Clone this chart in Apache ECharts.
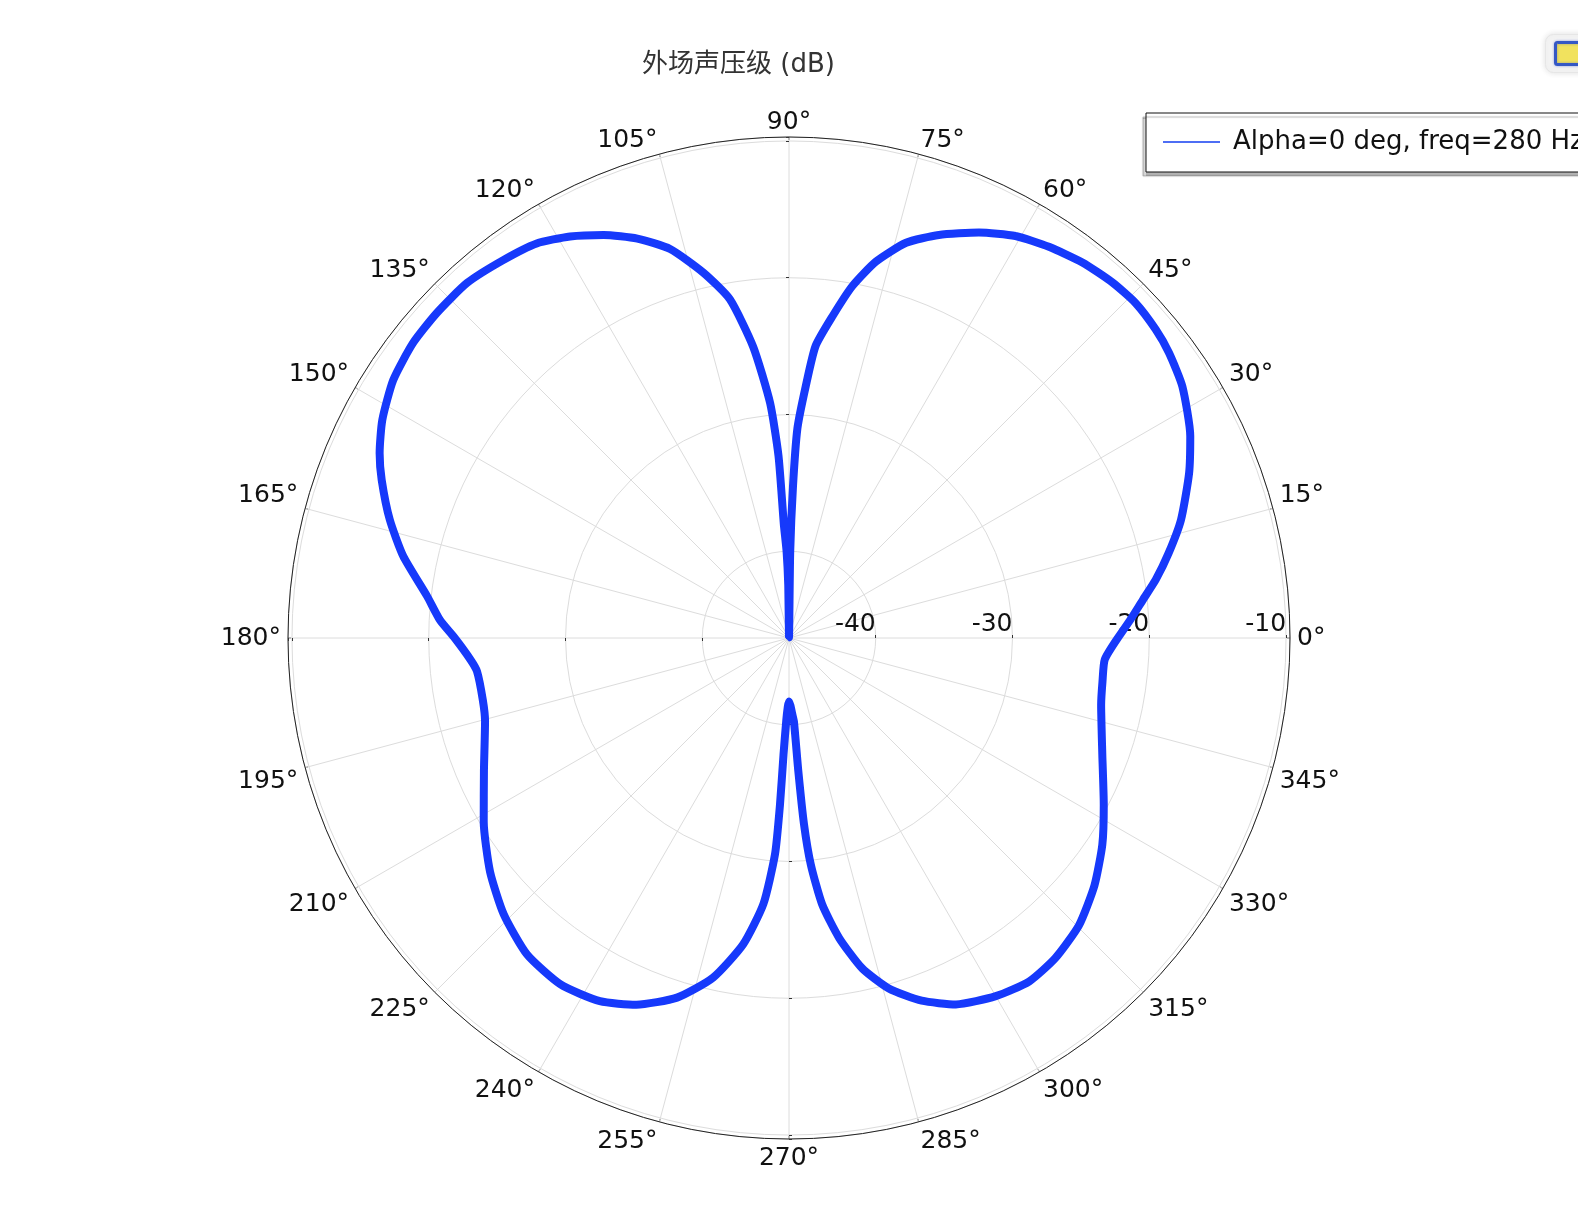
<!DOCTYPE html>
<html>
<head>
<meta charset="utf-8">
<script src="https://cdn.jsdelivr.net/npm/echarts@6/dist/echarts.min.js"></script>
<style>
  html, body { margin: 0; padding: 0; background: #fff; }
  #chart { width: 1578px; height: 1209px; }
</style>
</head>
<body>
<div id="chart"></div>
<script>
// Far-field sound pressure level around the body, in dB, against direction in degrees
const seriesName = 'Alpha=0 deg, freq=280 Hz';
const titleText = '外场声压级 (dB)';

const angleDeg = [
  0, 3.2, 6.2, 9.0, 12.6, 16.8, 22.4, 26.7, 32.6, 36.9, 40.1, 44.0, 47.7, 52.0, 56.4,
  60.6, 64.9, 69.6, 73.5, 77.0, 79.8, 82.3, 84.8, 86.2, 87.7, 88.5, 89.2, 90,
  90.8, 91.6, 92.6, 93.3, 94.6, 97.0, 99.9, 103.2, 107.0, 110.8, 114.7, 118.6, 122.6,
  127.1, 132.2, 137.3, 141.9, 146.9, 151.8, 155.7, 158.8, 163.5, 168.0, 173.4, 177.1, 180,
  183.9, 186.1, 191.4, 195.3, 203.6, 211.0, 218.0, 224.1, 230.4, 236.6, 242.5, 247.4,
  252.7, 257.4, 261.5, 264.5, 266.3, 266.9, 267.3, 268.1, 269.0, 270,
  271.2, 272.4, 273.4, 274.0, 274.6, 275.5, 277.1, 279.5, 282.5, 285.9, 290.1, 294.5,
  300.0, 305.0, 309.8, 315.3, 321.0, 326.6, 332.1, 339.6, 347.9, 352.1, 356.1, 360
];

const levelDb = [
  -22.3, -21.3, -20.3, -19.2, -17.9, -16.4, -14.7, -13.5, -12.2, -11.6, -11.3, -11.1, -11.2, -11.5, -12.0,
  -12.6, -13.6, -14.9, -16.2, -18.1, -20.2, -22.6, -24.9, -27.9, -31.0, -35.3, -40.0, -46.3,
  -42.5, -40.0, -38.0, -33.0, -29.1, -24.9, -21.2, -18.9, -16.6, -15.1, -13.9, -12.9, -12.1,
  -11.7, -11.3, -11.3, -11.4, -11.8, -12.6, -13.5, -14.4, -15.9, -17.5, -19.7, -20.8, -21.9,
  -23.0, -23.4, -23.5, -23.3, -22.0, -20.3, -18.6, -17.3, -16.3, -16.0, -16.4, -17.3,
  -18.8, -20.9, -23.7, -26.8, -30.5, -34.1, -37.8, -40.3, -41.3, -41.7,
  -41.4, -40.8, -40.2, -36.6, -32.7, -29.7, -26.7, -24.1, -21.6, -19.7, -18.1, -16.9,
  -16.1, -15.7, -15.9, -16.5, -17.6, -18.9, -20.3, -21.9, -23.0, -23.2, -23.2, -22.3
];

// angular tick labels (deg) around the rim
const angleTicks = [0, 15, 30, 45, 60, 75, 90, 105, 120, 135, 150, 165,
                    180, 195, 210, 225, 240, 255, 270, 285, 300, 315, 330, 345];

// radial range of the plot (dB) and the angular grid step (deg)
const radialMin = -46.34;
const radialMax = -9.71;
const angleStep = 15;

const fontFamily = '"DejaVu Sans", "Noto Sans CJK SC", sans-serif';
const center = [789, 638];
const radius = 501;

const curve = angleDeg.map((a, i) => [levelDb[i], a]);
const rimLabels = angleTicks.map(a => [radialMax, a]);

// extra polar frames only carry the radial tick marks on the 90/180/270 degree axes
const tickFrames = [90, 180, 270];

const polar = [{ center: center, radius: radius }]
  .concat(tickFrames.map(() => ({ center: center, radius: radius })));

const angleAxis = [{
  polarIndex: 0,
  type: 'value',
  min: 0,
  max: 360,
  interval: angleStep,
  startAngle: 0,
  clockwise: false,
  axisLine: { show: true, lineStyle: { color: '#222', width: 1 } },
  axisTick: { show: true, inside: true, length: 3, lineStyle: { color: '#333' } },
  axisLabel: { show: false },
  splitLine: { show: true, lineStyle: { color: '#dcdcdc', width: 1 } }
}].concat(tickFrames.map((s, k) => ({
  polarIndex: k + 1,
  type: 'value',
  min: 0,
  max: 360,
  startAngle: s,
  clockwise: false,
  show: false
})));

const radiusAxis = [{
  polarIndex: 0,
  type: 'value',
  min: radialMin,
  max: radialMax,
  axisLine: { show: false },
  axisTick: { show: true, length: 3, lineStyle: { color: '#333' } },
  axisLabel: {
    show: true,
    showMinLabel: false,
    showMaxLabel: false,
    color: '#111',
    fontSize: 25,
    fontFamily: fontFamily,
    align: 'right',
    verticalAlign: 'bottom',
    margin: 1
  },
  splitLine: { show: true, lineStyle: { color: '#dcdcdc', width: 1 } }
}].concat(tickFrames.map((s, k) => ({
  polarIndex: k + 1,
  type: 'value',
  min: radialMin,
  max: radialMax,
  axisLine: { show: false },
  axisTick: { show: true, length: 3, lineStyle: { color: '#333' } },
  axisLabel: { show: false },
  splitLine: { show: false }
})));

// rim labels: anchored just outside the rim, aligned away from the centre
function renderRimLabel(params, api) {
  const a = api.value(1);
  const p = api.coord([api.value(0), a]);
  const rad = a * Math.PI / 180;
  const c = Math.cos(rad);
  const s = Math.sin(rad);
  const eps = 1e-6;
  const x = p[0] + 7 * c;
  const y = p[1] - (s > 0 ? 1.5 : 7) * s;
  return {
    type: 'text',
    silent: true,
    style: {
      x: x,
      y: y,
      text: a + '°',
      fill: '#111',
      fontSize: 25,
      fontFamily: fontFamily,
      align: Math.abs(c) < eps ? 'center' : (c > 0 ? 'left' : 'right'),
      verticalAlign: Math.abs(s) < eps ? 'middle' : (s > 0 ? 'bottom' : 'top')
    }
  };
}

const chart = echarts.init(document.getElementById('chart'), null, { renderer: 'canvas' });

chart.setOption({
  backgroundColor: '#fff',
  animation: false,
  title: {
    text: titleText,
    left: 637,
    top: 47,
    textStyle: { fontSize: 26, fontWeight: 'normal', color: '#333', fontFamily: fontFamily }
  },
  legend: {
    left: 1146,
    top: 113,
    padding: [16, 14, 17, 17],
    itemWidth: 57,
    itemHeight: 2,
    backgroundColor: '#fff',
    borderColor: '#111',
    borderWidth: 1,
    shadowColor: 'rgba(0,0,0,0.3)',
    shadowOffsetX: -3,
    shadowOffsetY: 4,
    shadowBlur: 1,
    textStyle: { fontSize: 26, color: '#111', fontFamily: fontFamily, padding: [0, 0, 0, 8] },
    data: [{ name: seriesName, icon: 'rect', itemStyle: { color: '#4e6ef4' } }]
  },
  polar: polar,
  angleAxis: angleAxis,
  radiusAxis: radiusAxis,
  series: [{
    name: seriesName,
    type: 'line',
    coordinateSystem: 'polar',
    polarIndex: 0,
    symbol: 'none',
    smooth: 0.2,
    lineStyle: { color: '#1639fb', width: 8 },
    itemStyle: { color: '#1639fb' },
    data: curve
  }, {
    type: 'custom',
    coordinateSystem: 'polar',
    polarIndex: 0,
    silent: true,
    clip: false,
    renderItem: renderRimLabel,
    data: rimLabels
  }],
  graphic: [{
    type: 'group',
    left: 1545,
    top: 34,
    children: [
      { type: 'rect', shape: { x: 0, y: 0, width: 45, height: 38, r: 8 },
        style: { fill: '#f4f4f4', stroke: '#e6e6e6', shadowBlur: 6, shadowColor: 'rgba(0,0,0,0.12)' } },
      { type: 'rect', shape: { x: 10, y: 8, width: 30, height: 22, r: 2 },
        style: { fill: '#f1e25e', stroke: '#3558c4', lineWidth: 3, shadowBlur: 3, shadowColor: 'rgba(40,70,200,0.4)' } }
    ]
  }]
});
</script>
</body>
</html>
